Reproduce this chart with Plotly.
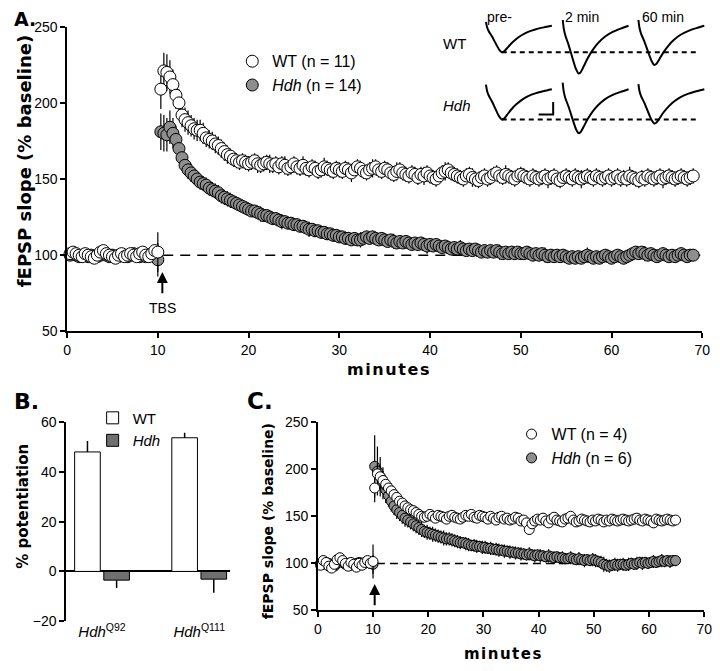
import numpy as np
import plotly.graph_objects as go

# ---------------- Panel A data (fEPSP slope, % baseline) ----------------
wtA_base = [101,102,101,100,99, 101,100,99,98,100, 102,103,101,100,99,
            98,100,101,99,100, 101,100,99,101,102, 100,99,101,103,102]
wtA_base_err = [2,3,2,2,3, 2,2,3,2,2, 3,2,2,2,3, 2,2,3,2,2, 2,3,2,2,3, 2,2,3,3,13]
hdhA_base = [100,101,100,99,100, 100,99,100,99,99, 100,101,100,99,100,
             99,99,100,100,99, 100,101,100,99,100, 99,100,100,99,97]
hdhA_base_err = [2,2,3,2,2, 2,3,2,2,2, 2,3,2,2,2, 3,2,2,2,2, 3,2,2,2,3, 2,2,2,3,11]

wtA_post = [
    209,221,220,217,212,205,200,192,189,187,185,183,182,182,180,177,176,175,173,172,170,168,166,165,163,162,161,162,161,160,
    161,162,160,159,160,161,160,159,160,158,160,159,157,158,160,158,157,159,157,156,158,157,155,156,158,157,156,155,157,156,
    155,157,156,154,156,158,157,155,154,156,157,158,156,155,157,156,154,153,155,156,154,153,152,154,153,151,153,152,154,152,
    151,150,152,154,155,156,154,153,152,151,150,152,153,151,150,149,151,152,150,151,153,154,152,151,153,152,151,150,152,153,
    152,151,150,152,151,150,151,152,150,151,152,150,149,151,152,151,150,152,151,150,151,152,151,150,152,151,150,151,152,150,
    151,152,150,151,150,152,151,150,149,151,150,152,151,150,151,152,150,151,152,151,150,151,152,151,150,151,152]
wtA_post_err = [
    13,12,12,11,10,9,9,8,8,8,7,7,7,7,7,6,6,6,6,6,6,6,6,5,5,5,5,5,5,5,
    5,5,6,5,5,5,6,5,5,5,5,6,5,5,5,5,5,6,5,5,5,5,5,5,6,5,5,5,5,5,
    5,5,5,6,5,5,5,5,5,5,6,5,5,5,5,5,5,5,6,5,5,5,5,5,5,5,5,6,5,5,
    5,5,5,5,6,5,5,5,5,5,5,5,5,6,5,5,5,5,5,5,5,5,5,5,6,5,5,5,5,5,
    5,5,5,5,5,5,5,5,6,5,5,5,5,5,5,5,5,5,5,6,5,5,5,5,5,5,5,5,5,5,
    5,5,5,5,5,6,5,5,5,5,5,5,5,5,5,5,6,5,5,5,5,5,5,5,5,5,5]
hdhA_post = [
    181,180,179,184,180,176,170,164,159,156,154,152,150,148,147,146,144,143,142,141,139,138,137,136,135,134,133,132,131,130,
    129,129,128,127,126,126,125,124,124,123,122,122,121,121,120,120,119,119,118,117,117,116,116,115,115,114,114,113,113,112,
    112,111,111,110,111,110,110,111,112,111,112,111,110,111,110,109,110,109,108,109,108,109,108,107,108,107,108,107,106,107,
    106,107,106,105,106,105,104,105,104,105,104,103,104,103,104,103,102,103,102,103,102,103,102,101,102,101,102,101,102,101,
    101,102,101,100,101,100,101,100,99,100,99,100,99,100,99,98,99,98,99,98,99,100,99,98,99,98,99,100,99,98,
    99,100,99,98,99,100,101,102,101,102,101,100,101,100,99,100,101,100,99,100,99,100,101,100,99,100,100]
hdhA_post_err = [
    12,12,11,11,10,9,8,7,6,6,6,5,5,5,5,5,5,5,5,5,5,5,5,5,4,4,4,4,4,4,
    4,4,4,5,4,4,4,4,4,4,5,4,4,4,4,4,4,4,4,5,4,4,4,4,4,4,4,4,4,4,
    4,4,4,4,4,4,5,4,4,4,4,4,4,4,4,4,4,5,4,4,4,4,4,4,4,4,4,4,5,4,
    4,4,4,4,4,4,4,4,4,5,4,4,4,4,4,4,4,4,4,4,4,4,5,4,4,4,4,4,4,4,
    4,4,4,4,4,4,4,5,4,4,4,4,4,4,4,4,4,4,4,4,4,5,4,4,4,4,4,4,4,4,
    4,4,4,4,4,4,4,4,4,4,5,4,4,4,4,4,4,4,4,4,4,4,4,4,4,4,4]

tA_base = np.arange(1, len(wtA_base) + 1) / 3.0          # every 20 s
tA_post = 10.333 + np.arange(len(wtA_post)) / 3.0

# ---------------- Panel B data (% potentiation) ----------------
b_cats = ["<i>Hdh</i><sup>Q92</sup>", "<i>Hdh</i><sup>Q111</sup>"]
b_wt = [48, 53.7]
b_wt_err = [4.4, 2.0]
b_hdh = [-3.5, -3.1]
b_hdh_err = [3.2, 5.5]

# ---------------- Panel C data ----------------
wtC_base = [98,103,101,97,95,99,104,106,103,100,97,101,99,96,100,98,101,103,100,102]
wtC_base_err = [3,3,4,3,3,3,4,3,3,3,3,4,3,3,3,3,4,3,4,18]
hdhC_base = [100,99,101,100,98,97,100,102,101,99,100,98,99,100,101,99,100,101,100,99]
hdhC_base_err = [3,4,3,3,4,3,3,4,3,3,4,3,3,4,3,3,4,3,4,10]
wtC_post = [
    180,195,192,188,184,180,177,173,170,166,
    164,161,159,157,156,154,152,150,149,150,
    152,150,148,151,150,149,147,150,151,149,
    148,147,149,151,150,152,149,148,151,150,
    149,147,150,148,146,149,150,147,148,146,
    147,149,148,145,146,143,136,142,145,147,
    146,148,145,143,147,149,146,145,144,147,
    148,150,146,144,145,147,146,145,144,146,
    145,147,146,144,146,145,147,146,145,146,
    147,146,145,146,147,148,146,145,147,146,
    145,143,147,146,145,146,147,146,145,146]
wtC_post_err = [
    15,13,12,10,9,8,8,7,7,6,
    6,5,5,5,5,5,4,5,5,4,
    5,4,5,5,4,5,4,5,4,5,
    4,5,4,5,5,4,5,4,5,4,
    5,4,5,4,5,4,4,5,4,5,
    4,5,4,5,4,5,6,5,4,5,
    4,5,4,5,4,4,5,4,5,4,
    5,4,5,4,5,4,5,4,4,5,
    4,5,4,5,4,5,4,5,4,4,
    5,4,5,4,5,4,4,5,4,5,
    4,5,4,5,4,5,4,4,5,4]
hdhC_post = [
    203,198,192,185,178,172,166,161,157,154,
    151,148,146,144,142,140,138,136,134,133,
    132,131,130,129,128,127,126,126,125,124,
    123,122,122,121,120,119,119,118,118,117,
    117,116,116,115,115,114,114,113,113,112,
    112,111,111,110,110,109,110,109,108,109,
    108,108,107,108,107,106,107,106,106,105,
    105,106,105,104,105,104,103,104,103,104,
    103,102,101,99,98,97,98,99,98,99,
    99,98,99,100,99,100,101,100,101,100,
    101,102,101,102,103,102,103,102,103,103]
hdhC_post_err = [
    33,26,21,17,14,12,11,10,10,9,
    9,9,8,8,8,8,8,8,7,8,
    7,8,7,7,7,8,7,7,7,7,
    7,7,6,7,7,6,7,7,6,7,
    7,6,7,6,7,7,6,7,6,7,
    6,7,6,7,6,6,7,6,7,6,
    7,6,6,7,6,7,6,6,7,6,
    6,7,6,6,7,6,7,6,6,7,
    7,6,7,8,7,7,6,7,7,6,
    7,6,7,6,6,7,6,7,6,6,
    6,7,6,6,7,6,6,7,6,6]

tC_base = np.arange(1, len(wtC_base) + 1) * 0.5          # every 30 s
tC_post = 10.3 + np.arange(len(wtC_post)) * 0.5

# ---------------- Inset EPSP traces ----------------
wave_t = [0.0, 0.08, 0.2, 0.45, 0.75, 1.0, 1.2, 1.35, 1.6, 1.9, 2.3, 2.7, 3.2, 3.8, 4.4, 5.0]   # ms
wave_shape = [-0.15, 0.05, 0.2, 0.4, 0.68, 0.9, 1.0, 0.98, 0.85, 0.68, 0.5, 0.36, 0.23, 0.13, 0.06, 0.0]
wave_amp_wt = [1.04, 1.88, 1.54]     # mV: pre-, 2 min, 60 min
wave_amp_hdh = [1.19, 1.73, 1.35]
wave_labels = ["pre-", "2 min", "60 min"]

FONT = "Liberation Sans, Arial, sans-serif"
BFONT = "DejaVu Sans, Arial, sans-serif"
GRAY = "#8e8e8e"

# page offset of the plot div (body margin) is compensated here
OFF = 8
W, H = 720, 671
def PX(x):
    return (x - OFF) / W
def PY(y):
    return 1 - (y - OFF) / H

fig = go.Figure()

def add_series(t, y, err, xa, ya, fill, size, name, legend, rank, showleg):
    fig.add_trace(go.Scatter(
        x=t, y=y, mode="markers", xaxis=xa, yaxis=ya, name=name,
        legend=legend, legendrank=rank, showlegend=showleg,
        marker=dict(size=size, color=fill, line=dict(color="black", width=1)),
        error_y=dict(type="data", array=err, color="black", thickness=1.2, width=0),
        cliponaxis=False))

# Panel A
add_series(tA_base, hdhA_base, hdhA_base_err, "x", "y", GRAY, 12, "<i>Hdh</i> (n = 14)", "legend", 2, False)
add_series(tA_post, hdhA_post, hdhA_post_err, "x", "y", GRAY, 12, "<i>Hdh</i> (n = 14)", "legend", 2, True)
add_series(tA_base, wtA_base, wtA_base_err, "x", "y", "white", 12, "WT (n = 11)", "legend", 1, False)
add_series(tA_post, wtA_post, wtA_post_err, "x", "y", "white", 12, "WT (n = 11)", "legend", 1, True)

# Panel C
add_series(tC_base, hdhC_base, hdhC_base_err, "x3", "y3", GRAY, 10, "<i>Hdh</i> (n = 6)", "legend3", 2, False)
add_series(tC_post, hdhC_post, hdhC_post_err, "x3", "y3", GRAY, 10, "<i>Hdh</i> (n = 6)", "legend3", 2, True)
add_series(tC_base, wtC_base, wtC_base_err, "x3", "y3", "white", 10, "WT (n = 4)", "legend3", 1, False)
add_series(tC_post, wtC_post, wtC_post_err, "x3", "y3", "white", 10, "WT (n = 4)", "legend3", 1, True)

# Panel B
fig.add_trace(go.Bar(x=b_cats, y=b_wt, name="WT", xaxis="x2", yaxis="y2", legend="legend2",
                     marker=dict(color="white", line=dict(color="black", width=1)),
                     error_y=dict(type="data", symmetric=False, array=b_wt_err, arrayminus=[0, 0],
                                  color="black", thickness=1.5, width=0)))
fig.add_trace(go.Bar(x=b_cats, y=b_hdh, name="<i>Hdh</i>", xaxis="x2", yaxis="y2", legend="legend2",
                     marker=dict(color="#6f6f6f", line=dict(color="black", width=1)),
                     error_y=dict(type="data", symmetric=False, array=[0, 0], arrayminus=b_hdh_err,
                                  color="black", thickness=1.5, width=0)))

# Inset traces
col_start = [0.0, 5.82, 11.57]
row_off = [0.0, -2.5]
for r, amps in enumerate([wave_amp_wt, wave_amp_hdh]):
    for c, a in enumerate(amps):
        fig.add_trace(go.Scatter(
            x=[col_start[c] + t for t in wave_t],
            y=[row_off[r] - a * s for s in wave_shape],
            mode="lines", line=dict(color="black", width=2, shape="spline", smoothing=0.7),
            xaxis="x4", yaxis="y4", showlegend=False, hoverinfo="skip"))
    trough = row_off[r] - amps[0] * max(wave_shape)
    t_tr = wave_t[wave_shape.index(max(wave_shape))]
    fig.add_trace(go.Scatter(
        x=[t_tr, 16.2], y=[trough, trough], mode="lines",
        line=dict(color="black", width=2, dash="5px,4px"),
        xaxis="x4", yaxis="y4", showlegend=False, hoverinfo="skip"))

def ax_common(**kw):
    d = dict(showline=True, linecolor="black", linewidth=1.5, ticks="outside", ticklen=5,
             tickwidth=1.5, tickcolor="black", showgrid=False, zeroline=False,
             tickfont=dict(family=FONT, size=14, color="black"))
    d.update(kw)
    return d

fig.update_layout(
    width=W, height=H, margin=dict(l=0, r=0, t=0, b=0),
    paper_bgcolor="white", plot_bgcolor="white",
    barmode="group", bargap=0.4, bargroupgap=0.12,
    xaxis=ax_common(domain=[PX(64), PX(710)], range=[0, 70], tickvals=list(range(0, 71, 10)), anchor="y"),
    yaxis=ax_common(domain=[PY(331), PY(19)], range=[50, 250], tickvals=[50, 100, 150, 200, 250], anchor="x"),
    xaxis2=dict(domain=[PX(63), PX(230)], range=[-0.37, 1.32], type="category", anchor="y2",
                showline=False, ticks="", showgrid=False, zeroline=False,
                tickfont=dict(family=FONT, size=15, color="black")),
    yaxis2=ax_common(domain=[PY(628), PY(424)], range=[-20, 60], tickvals=[-20, 0, 20, 40, 60],
                     anchor="x2", zeroline=True, zerolinecolor="black", zerolinewidth=1.5),
    xaxis3=ax_common(domain=[PX(319), PX(712)], range=[0, 70], tickvals=list(range(0, 71, 10)), anchor="y3"),
    yaxis3=ax_common(domain=[PY(617), PY(424)], range=[50, 250], tickvals=[50, 100, 150, 200, 250], anchor="x3"),
    xaxis4=dict(domain=[PX(480), PX(720)], range=[-0.746, 17.164], visible=False, anchor="y4"),
    yaxis4=dict(domain=[PY(135), PY(12)], range=[-4.5, 0.231], visible=False, anchor="x4"),
    legend=dict(x=PX(232), y=PY(37), xanchor="left", yanchor="top", bgcolor="rgba(0,0,0,0)",
                font=dict(family=FONT, size=16, color="black"), tracegroupgap=0, itemwidth=30),
    legend2=dict(x=PX(90), y=PY(403), xanchor="left", yanchor="top", bgcolor="rgba(0,0,0,0)",
                 font=dict(family=FONT, size=15, color="black"), tracegroupgap=0, itemwidth=30),
    legend3=dict(x=PX(516), y=PY(419), xanchor="left", yanchor="top", bgcolor="rgba(0,0,0,0)",
                 font=dict(family=FONT, size=16, color="black"), tracegroupgap=0, itemwidth=30),
    showlegend=True,
)

shapes = [
    dict(type="line", xref="x", yref="y", x0=10.6, x1=70, y0=100, y1=100, layer="below",
         line=dict(color="black", width=1.5, dash="10px,7px")),
    dict(type="line", xref="x3", yref="y3", x0=10.7, x1=65, y0=100, y1=100, layer="below",
         line=dict(color="black", width=1.5, dash="8px,5px")),
    dict(type="path", xref="x4", yref="y4", path="M 4.0,-3.5 L 5.1,-3.5 L 5.1,-3.0",
         line=dict(color="black", width=2)),
]
fig.update_layout(shapes=shapes)

ann = []
def pann(text, x, y, size, font=FONT, angle=0, xanchor="center", yanchor="middle"):
    ann.append(dict(text=text, x=max(PX(x), 0), y=PY(y), xref="paper", yref="paper", showarrow=False,
                    font=dict(family=font, size=size, color="black"), textangle=angle,
                    xanchor=xanchor, yanchor=yanchor))

pann("<b>A.</b>", 0, 11, 19, BFONT, xanchor="left")
pann("<b>B.</b>", 0, 403, 22, BFONT, xanchor="left")
pann("<b>C.</b>", 245, 402, 23, BFONT, xanchor="left")
pann("<b>fEPSP slope (% baseline)</b>", 21, 157, 18, BFONT, angle=-90)
pann("<b>% potentiation</b>", 19, 510, 15, BFONT, angle=-90)
pann("<b>fEPSP slope (% baseline)</b>", 268, 526, 14, BFONT, angle=-90)
pann("<b>m\u200ai\u200an\u200au\u200at\u200ae\u200as</b>", 391, 370, 16, BFONT)
pann("<b>m\u200ai\u200an\u200au\u200at\u200ae\u200as</b>", 507, 662, 15, BFONT)
# inset labels
pann(wave_labels[0], 504, 9, 14)
pann(wave_labels[1], 588, 9, 14)
pann(wave_labels[2], 670, 9, 14)
pann("WT", 458, 36, 15)
pann("<i>Hdh</i>", 461, 100, 15)

# TBS arrows
ann.append(dict(x=10.5, y=89, ax=10.5, ay=74, xref="x", yref="y", axref="x", ayref="y",
                showarrow=True, arrowhead=2, arrowsize=1.1, arrowwidth=2, arrowcolor="black", text=""))
ann.append(dict(x=10.5, y=65, xref="x", yref="y", text="TBS", showarrow=False,
                font=dict(family=FONT, size=14, color="black")))
ann.append(dict(x=10.3, y=78, ax=10.3, ay=54, xref="x3", yref="y3", axref="x3", ayref="y3",
                showarrow=True, arrowhead=2, arrowsize=1.1, arrowwidth=2, arrowcolor="black", text=""))
fig.update_layout(annotations=ann)

fig.write_html("out.html")
